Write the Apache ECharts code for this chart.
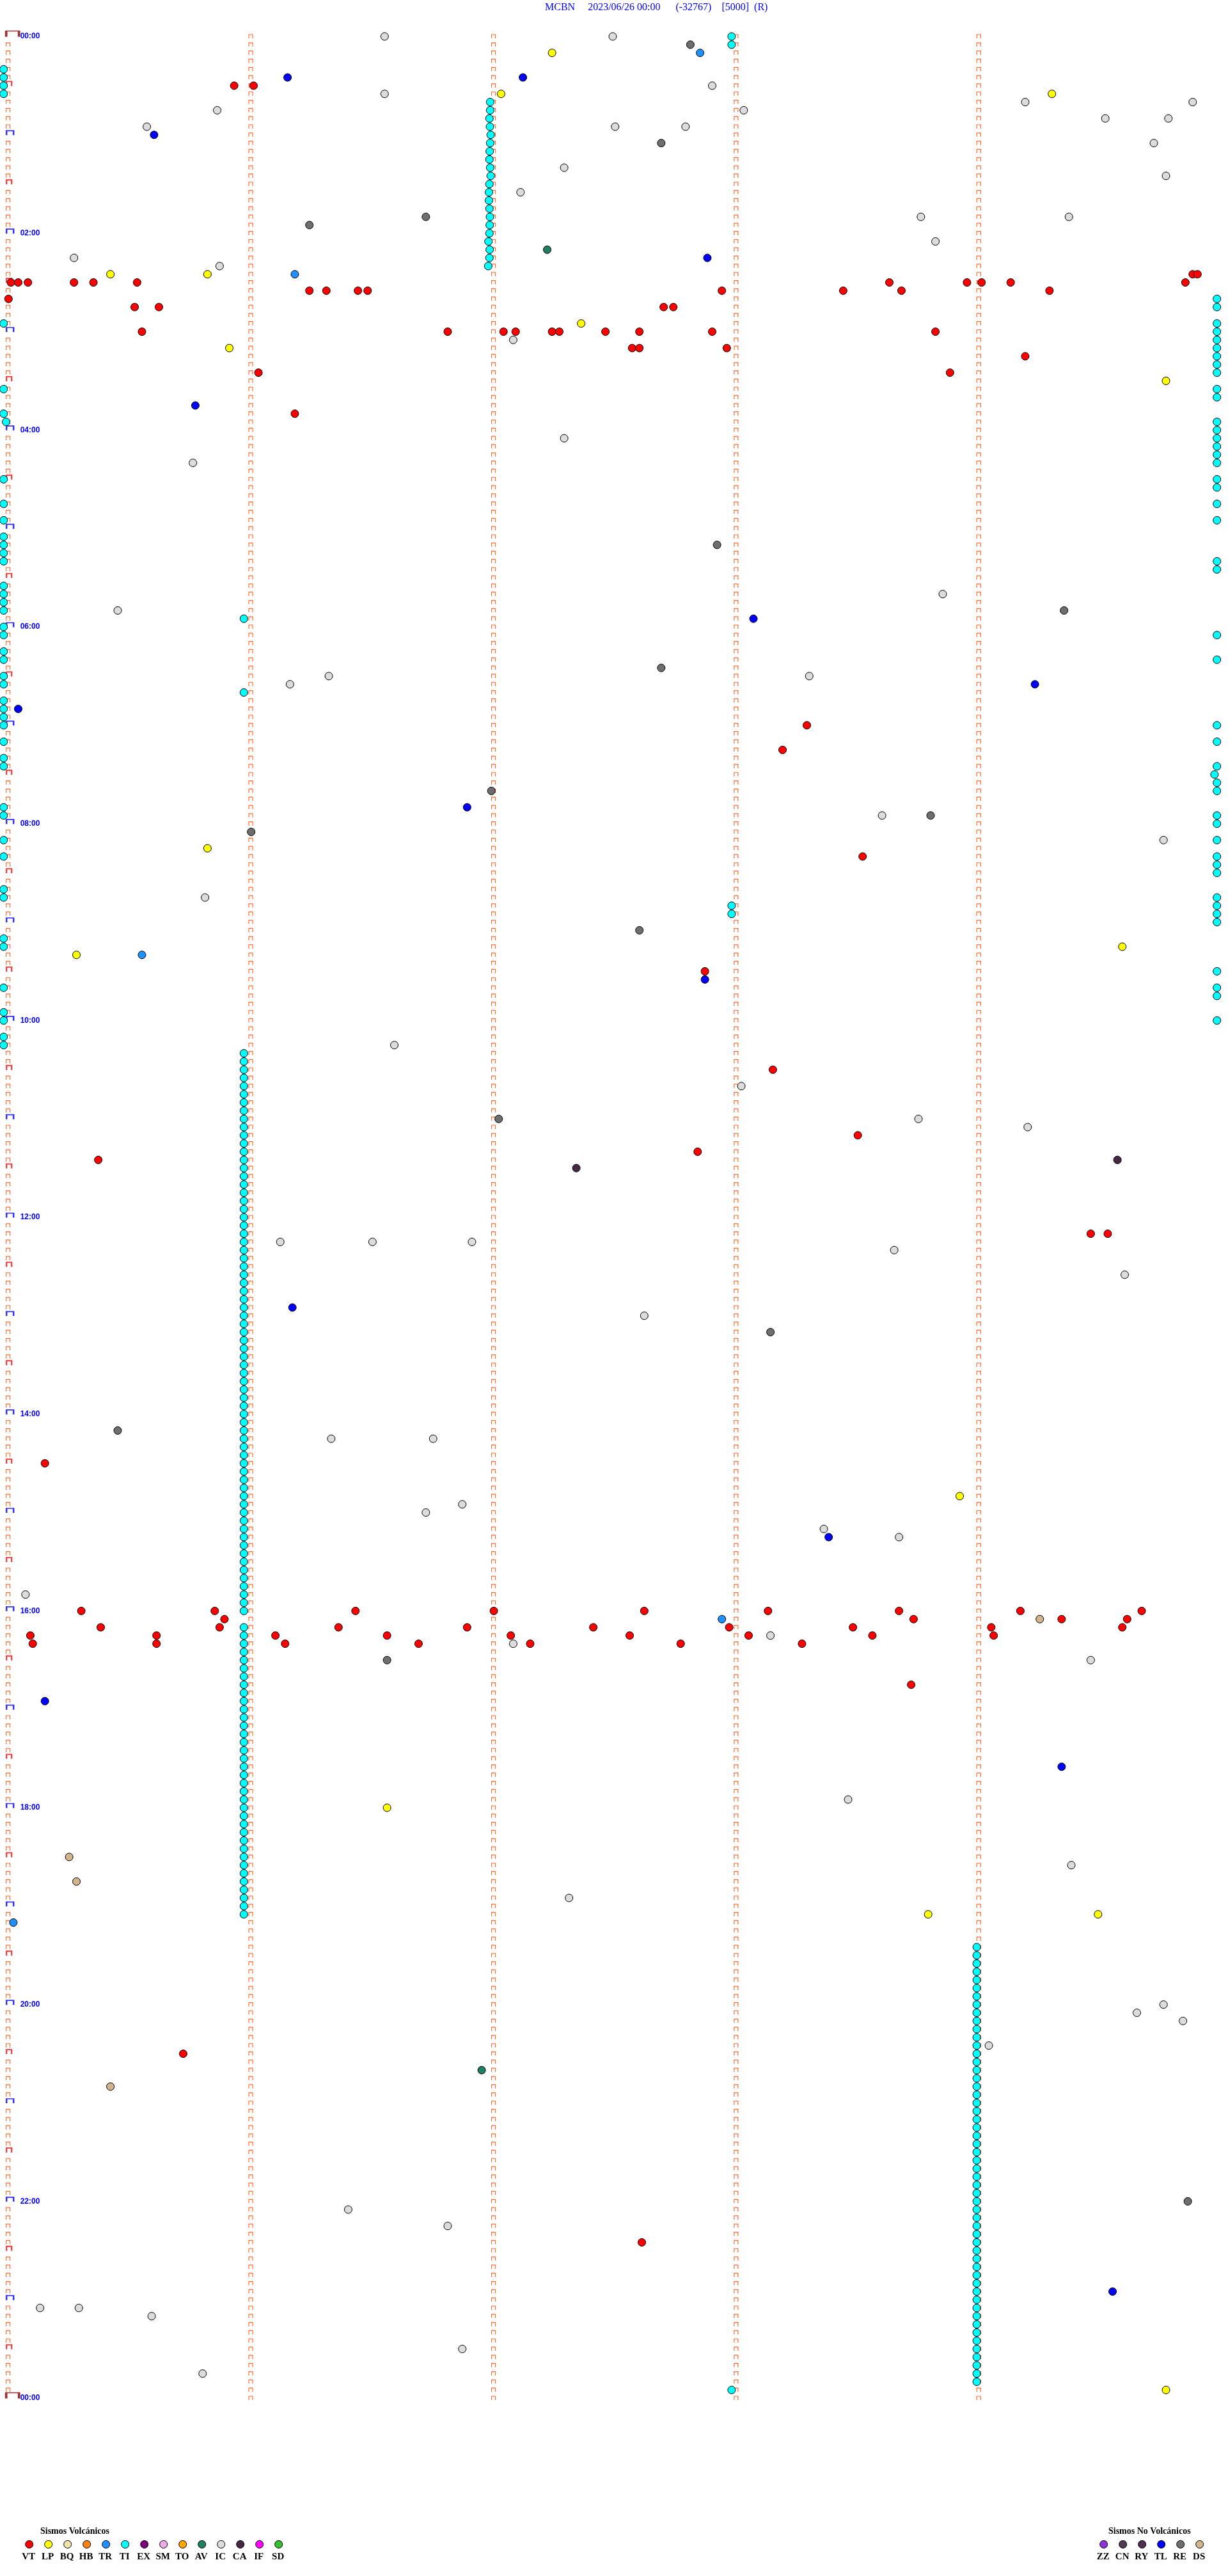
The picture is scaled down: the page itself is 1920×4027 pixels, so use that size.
<!DOCTYPE html>
<html><head><meta charset="utf-8">
<script src="https://cdn.jsdelivr.net/npm/echarts@6/dist/echarts.min.js"></script>
<style>html,body{margin:0;padding:0;background:#fff}#c{width:1920px;height:4027px}</style>
</head><body><div id="c"></div>
<script>
// Helicorder event plot: each line = 5 minutes; x = minute offset inside line (0..5), y = line index (0..288)
const TITLE = 'MCBN     2023/06/26 00:00      (-32767)    [5000]  (R)';
const LINES_PER_DAY = 288;
const MARK_COLUMNS = [0, 1, 2, 3, 4];

const VT = [[4.90,29],[4.92,29],
 [0.03,30],[0.06,30],[0.10,30],[0.29,30],[0.37,30],[0.55,30],[3.65,30],[3.97,30],[4.03,30],[4.15,30],[4.87,30],
 [1.26,31],[1.33,31],[1.46,31],[1.50,31],[2.96,31],[3.46,31],[3.70,31],[4.31,31],
 [0.02,32],[0.54,33],[0.64,33],[2.72,33],[2.76,33],
 [0.57,36],[1.83,36],[2.06,36],[2.11,36],[2.26,36],[2.29,36],[2.48,36],[2.62,36],[2.92,36],[3.84,36],
 [2.59,38],[2.62,38],[2.98,38],[4.21,39],[1.05,41],[3.90,41],[1.20,46],
 [0.95,6],[1.03,6],
 [3.31,84],[3.21,87],[3.54,100],[2.89,114],[3.17,126],[3.52,134],[2.86,136],[0.39,137],[4.48,146],[4.55,146],[0.17,174],
 [0.32,192],[0.87,192],[1.45,192],[2.02,192],[2.64,192],[3.15,192],[3.69,192],[4.19,192],[4.69,192],
 [0.91,193],[3.75,193],[4.36,193],[4.63,193],
 [0.40,194],[0.89,194],[1.38,194],[1.91,194],[2.43,194],[2.99,194],[3.50,194],[4.07,194],[4.61,194],
 [0.11,195],[0.63,195],[1.12,195],[1.58,195],[2.09,195],[2.58,195],[3.07,195],[3.58,195],[4.08,195],
 [0.12,196],[0.63,196],[1.16,196],[1.71,196],[2.17,196],[2.79,196],[3.29,196],
 [3.74,201],[0.74,246],[2.63,269]];
const LP = [[2.26,2],[2.05,7],[4.32,7],[0.44,29],[0.84,29],[2.38,35],[0.93,38],[4.79,42],[0.84,99],[0.30,112],[4.61,111],
 [3.94,178],[1.58,216],[3.81,229],[4.51,229],[4.79,287]];
const TR = [[2.87,2],[1.20,29],[0.57,112],[2.96,193],[0.04,230]];
const TI = [[3.00,0],[3.00,1],
 [0,4],[0,5],[0,6],[0,7],[0,35],[0,43],[0,46],[0.01,47],[0,54],[0,57],[0,59],[0,61],[0,62],[0,63],[0,64],[0,67],[0,68],[0,69],[0,70],
 [0,72],[0,73],[0,75],[0,76],[0,78],[0,79],[0,81],[0,82],[0,83],[0,84],[0,86],[0,88],[0,89],[0,94],[0,95],[0,98],[0,100],[0,104],[0,105],
 [0,110],[0,111],[0,116],[0,119],[0,120],[0,122],[0,123],
 [5,32],[5,33],[5,35],[5,36],[5,37],[5,38],[5,39],[5,40],[5,41],[5,43],[5,44],[5,47],[5,48],[5,49],[5,50],[5,51],[5,52],[5,54],[5,55],
 [5,57],[5,59],[5,64],[5,65],[5,73],[5,76],[5,84],[5,86],[5,89],[4.99,90],[5,91],[5,92],[5,95],[5,96],[5,98],[5,100],[5,101],[5,102],
 [5,105],[5,106],[5,107],[5,108],[5,114],[5,116],[5,117],[5,120],
 [2.005,8],[2.005,9],[2.002,10],[2.004,11],[2.007,12],[2.005,13],[2.003,14],[2.002,15],[2.005,16],[2.007,17],[2.002,18],[2.0,19],
 [2.0,20],[2.002,21],[2.004,22],[2.003,23],[2.002,24],[1.998,25],[2.003,26],[2.002,27],[1.997,28],
 [0.99,71],[0.99,80],[3.00,106],[3.00,107],
 [0.99,124],[0.99,125],[0.99,126],[0.99,127],[0.99,128],[0.99,129],[0.99,130],[0.99,131],[0.99,132],[0.99,133],[0.99,134],[0.99,135],
 [0.99,136],[0.99,137],[0.99,138],[0.99,139],[0.99,140],[0.99,141],[0.99,142],[0.99,143],[0.99,144],[0.99,145],[0.99,146],[0.99,147],
 [0.99,148],[0.99,149],[0.99,150],[0.99,151],[0.99,152],[0.99,153],[0.99,154],[0.99,155],[0.99,156],[0.99,157],[0.99,158],[0.99,159],
 [0.99,160],[0.99,161],[0.99,162],[0.99,163],[0.99,164],[0.99,165],[0.99,166],[0.99,167],[0.99,168],[0.99,169],[0.99,170],[0.99,171],
 [0.99,172],[0.99,173],[0.99,174],[0.99,175],[0.99,176],[0.99,177],[0.99,178],[0.99,179],[0.99,180],[0.99,181],[0.99,182],[0.99,183],
 [0.99,184],[0.99,185],[0.99,186],[0.99,187],[0.99,188],[0.99,189],[0.99,190],[0.99,191],[0.99,192],
 [0.99,194],[0.99,195],[0.99,196],[0.99,197],[0.99,198],[0.99,199],[0.99,200],[0.99,201],[0.99,202],[0.99,203],[0.99,204],[0.99,205],
 [0.99,206],[0.99,207],[0.99,208],[0.99,209],[0.99,210],[0.99,211],[0.99,212],[0.99,213],[0.99,214],[0.99,215],[0.99,216],[0.99,217],
 [0.99,218],[0.99,219],[0.99,220],[0.99,221],[0.99,222],[0.99,223],[0.99,224],[0.99,225],[0.99,226],[0.99,227],[0.99,228],[0.99,229],
 [4.01,233],[4.01,234],[4.01,235],[4.01,236],[4.01,237],[4.01,238],[4.01,239],[4.01,240],[4.01,241],[4.01,242],[4.01,243],[4.01,244],
 [4.01,245],[4.01,246],[4.01,247],[4.01,248],[4.01,249],[4.01,250],[4.01,251],[4.01,252],[4.01,253],[4.01,254],[4.01,255],[4.01,256],
 [4.01,257],[4.01,258],[4.01,259],[4.01,260],[4.01,261],[4.01,262],[4.01,263],[4.01,264],[4.01,265],[4.01,266],[4.01,267],[4.01,268],
 [4.01,269],[4.01,270],[4.01,271],[4.01,272],[4.01,273],[4.01,274],[4.01,275],[4.01,276],[4.01,277],[4.01,278],[4.01,279],[4.01,280],
 [4.01,281],[4.01,282],[4.01,283],[4.01,284],[4.01,285],[4.01,286],
 [3.00,287]];
const AV = [[2.24,26],[1.97,248]];
const IC = [[1.57,0],[2.51,0],[2.92,6],[1.57,7],[4.21,8],[4.90,8],[0.88,9],[3.05,9],[4.54,10],[4.80,10],[0.59,11],[2.52,11],[2.81,11],
 [4.74,13],[2.31,16],[4.79,17],[2.13,19],[3.78,22],[4.39,22],[3.84,25],[0.29,27],[0.89,28],[2.10,37],[2.31,49],[0.78,52],[3.87,68],
 [0.47,70],[3.32,78],[1.34,78],[1.18,79],[3.62,95],[4.78,98],[0.83,105],[1.61,123],[3.04,128],[3.77,132],[4.22,133],[1.14,147],
 [1.52,147],[1.93,147],[3.67,148],[4.62,151],[2.64,156],[1.35,171],[1.77,171],[1.89,179],[1.74,180],[3.38,182],[3.69,183],[0.09,190],
 [3.16,195],[2.10,196],[4.48,198],[3.48,215],[4.40,223],[2.33,227],[4.06,245],[4.67,241],[4.78,240],[4.86,242],[1.42,265],[1.83,267],
 [0.15,277],[0.31,277],[0.61,278],[1.89,282],[0.82,285]];
const CA = [[2.36,138],[4.59,137]];
const TL = [[1.17,5],[2.14,5],[0.62,12],[2.90,27],[0.79,45],[3.09,71],[4.25,79],[0.06,82],[1.91,94],[2.89,115],[1.19,155],[3.40,183],
 [0.17,203],[4.36,211],[4.57,275]];
const RE = [[2.83,1],[2.71,13],[1.74,22],[1.26,23],[2.94,62],[4.37,70],[2.71,77],[2.01,92],[3.82,95],[1.02,97],[2.62,109],[2.04,132],
 [3.16,158],[0.47,170],[1.58,198],[4.88,264]];
const DS = [[4.27,193],[0.27,222],[0.30,225],[0.44,250]];

const VOLCANIC = ['VT','LP','BQ','HB','TR','TI','EX','SM','TO','AV','IC','CA','IF','SD'];
const NON_VOLCANIC = ['ZZ','CN','RY','TL','RE','DS'];
const COLORS = {VT:'#FF0000',LP:'#FFFF00',BQ:'#EEE2A8',HB:'#FF8010',TR:'#1E90FF',TI:'#00FFFF',EX:'#800080',SM:'#EEAAE8',
 TO:'#FFA500',AV:'#1F7F60',IC:'#DCDCDC',CA:'#452845',IF:'#FF00FF',SD:'#30C030',
 ZZ:'#8F35D8',CN:'#503A55',RY:'#503050',TL:'#0000FF',RE:'#6E6E6E',DS:'#D2B48C'};
const EVENTS = {VT, LP, TR, TI, AV, IC, CA, TL, RE, DS};

// line marks (⊓ glyphs)
const smallMarks = [], hourMarks = [], halfMarks = [], dayMarks = [];
for (let k = 0; k <= LINES_PER_DAY; k++) {
  for (const c of MARK_COLUMNS) {
    if (c === 0) {
      if (k % LINES_PER_DAY === 0) dayMarks.push([c, k]);
      else if (k % 12 === 0) hourMarks.push([c, k]);
      else if (k % 6 === 0) halfMarks.push([c, k]);
      else smallMarks.push([c, k]);
    } else smallMarks.push([c, k]);
  }
}
const GLYPH = 'path://M0,10 L0,0 L10,0 L10,10';
function markSeries(data, color, size, offset, width) {
  return {type:'scatter', data, symbol:GLYPH, symbolSize:size, symbolOffset:offset, silent:true, clip:false, z:1,
    itemStyle:{color:'rgba(0,0,0,0)', borderColor:color, borderWidth:width}};
}

const series = [
  markSeries(smallMarks, '#FF4800', [6,6], [7,0], 1.2),
  markSeries(halfMarks, '#FF0000', [8,7], [8.5,-3], 2),
  markSeries(hourMarks, '#0000FF', [11,7], [10,-3], 2),
  markSeries(dayMarks, '#800000', [20,9], [14,-4], 2.5)
];
for (const [name, data] of Object.entries(EVENTS)) {
  series.push({type:'scatter', name, data, symbol:'circle', symbolSize:12, silent:true, clip:false, z:3,
    itemStyle:{color:COLORS[name], borderColor:'#000', borderWidth:1, opacity:1}});
}

function hhmm(v) {
  const mins = (v * 5) % 1440;
  const h = Math.floor(mins / 60), m = mins % 60;
  return String(h).padStart(2,'0') + ':' + String(m).padStart(2,'0');
}

const graphic = [];
function legendBlock(codes, title, titleX, x0) {
  graphic.push({type:'text', x:titleX, y:3957, style:{text:title, font:'bold 14px "Liberation Serif"', fill:'#000', verticalAlign:'middle'}});
  codes.forEach((c, i) => {
    const cx = x0 + 30 * i;
    graphic.push({type:'circle', shape:{cx, cy:3977.5, r:6}, style:{fill:COLORS[c], stroke:'#000', lineWidth:1}});
    graphic.push({type:'text', x:cx - 1, y:3997, style:{text:c, font:'bold 15px "Liberation Serif"', fill:'#000', align:'center', verticalAlign:'middle'}});
  });
}
legendBlock(VOLCANIC, 'Sismos Volcánicos', 63, 45.7);
legendBlock(NON_VOLCANIC, 'Sismos No Volcánicos', 1733, 1725.7);

const chart = echarts.init(document.getElementById('c'), null, {renderer:'canvas'});
chart.setOption({
  animation:false,
  backgroundColor:'#fff',
  title:{text:TITLE, left:852, top:4, padding:0, textStyle:{color:'#0000FF', fontFamily:'Liberation Serif', fontWeight:'normal', fontSize:16}},
  grid:{left:5.7, right:17.3, top:57, bottom:278},
  xAxis:{type:'value', min:0, max:5, show:false},
  yAxis:{type:'value', min:0, max:LINES_PER_DAY, interval:24, inverse:true,
    axisLine:{show:false}, axisTick:{show:false}, splitLine:{show:false},
    axisLabel:{inside:true, margin:26, showMinLabel:true, showMaxLabel:true, formatter:hhmm, color:'#0000FF', fontWeight:'bold',
      fontSize:12, fontFamily:'Liberation Sans', padding:[0,0,10,0]}},
  graphic,
  series
});
</script></body></html>
